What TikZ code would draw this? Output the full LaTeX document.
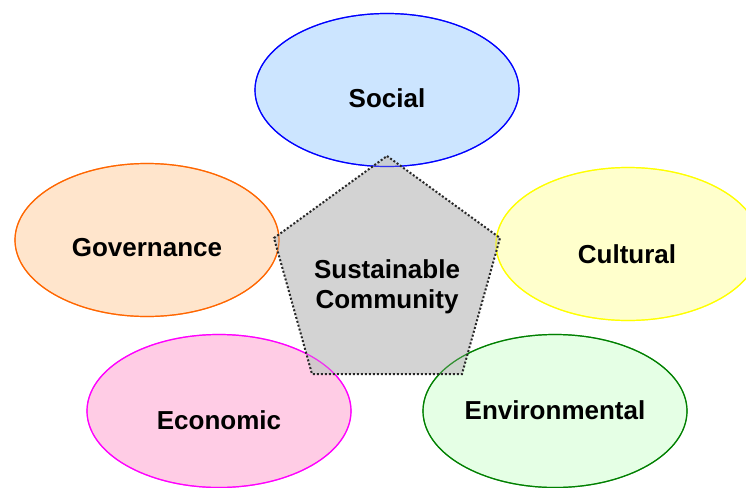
\documentclass[tikz,border=0pt]{standalone}
\usepackage{fontspec}
\setmainfont{Liberation Sans}
\usetikzlibrary{shapes.geometric}
\definecolor{socfill}{RGB}{204,229,255}
\definecolor{socline}{RGB}{0,0,255}
\definecolor{govfill}{RGB}{255,229,204}
\definecolor{govline}{RGB}{255,102,0}
\definecolor{culfill}{RGB}{255,255,204}
\definecolor{culline}{RGB}{255,255,0}
\definecolor{ecofill}{RGB}{255,204,229}
\definecolor{ecoline}{RGB}{255,0,255}
\definecolor{envfill}{RGB}{229,255,229}
\definecolor{envline}{RGB}{0,128,0}
\definecolor{pentfill}{RGB}{200,200,200}
\definecolor{pentline}{RGB}{40,40,40}
\tikzset{
  oval/.style={ellipse, minimum width=264pt, minimum height=153pt, inner sep=0pt, line width=1.2pt},
  lbl/.style={font=\fontsize{26}{30}\selectfont\bfseries, inner sep=0pt, anchor=center},
  pent/.style={fill=pentfill, fill opacity=0.8},
  pentborder/.style={draw=pentline, line width=2pt, dash pattern=on 2pt off 2pt}
}
\begin{document}
\begin{tikzpicture}[x=1pt, y=-1pt]
\useasboundingbox (0,0) rectangle (746,487);
% ellipses
\node[oval, fill=socfill, draw=socline] (soc) at (387,90) {};
\node[oval, fill=govfill, draw=govline] (gov) at (147,240) {};
\node[oval, fill=culfill, draw=culline] (cul) at (628,244) {};
\node[oval, fill=ecofill, draw=ecoline] (eco) at (219,411) {};
\node[oval, fill=envfill, draw=envline] (env) at (555,411) {};
% pentagon
\coordinate (pt) at (387,156);
\coordinate (pr) at (500,238);
\coordinate (pbr) at (462,374);
\coordinate (pbl) at (312,374);
\coordinate (pl) at (274,238);
\fill[pent] (pt) -- (pr) -- (pbr) -- (pbl) -- (pl) -- cycle;
% ellipse borders seen through pentagon
\begin{scope}[draw opacity=0.7]
\node[oval, draw=socline] at (soc.center) {};
\node[oval, draw=govline] at (gov.center) {};
\node[oval, draw=culline] at (cul.center) {};
\node[oval, draw=ecoline] at (eco.center) {};
\node[oval, draw=envline] at (env.center) {};
\end{scope}
\draw[pentborder] (pt) -- (pr) -- (pbr) -- (pbl) -- (pl) -- cycle;
% labels
\node[lbl] (tsoc) at (387,98) {Social};
\node[lbl] (tgov) at (147,248) {Governance};
\node[lbl] (tcul) at (627,254) {Cultural};
\node[lbl] (teco) at (219,420) {Economic};
\node[lbl] (tenv) at (555,410) {Environmental};
\node[lbl, align=center] (tsc) at (387,287) {Sustainable\\Community};
\end{tikzpicture}
\end{document}
